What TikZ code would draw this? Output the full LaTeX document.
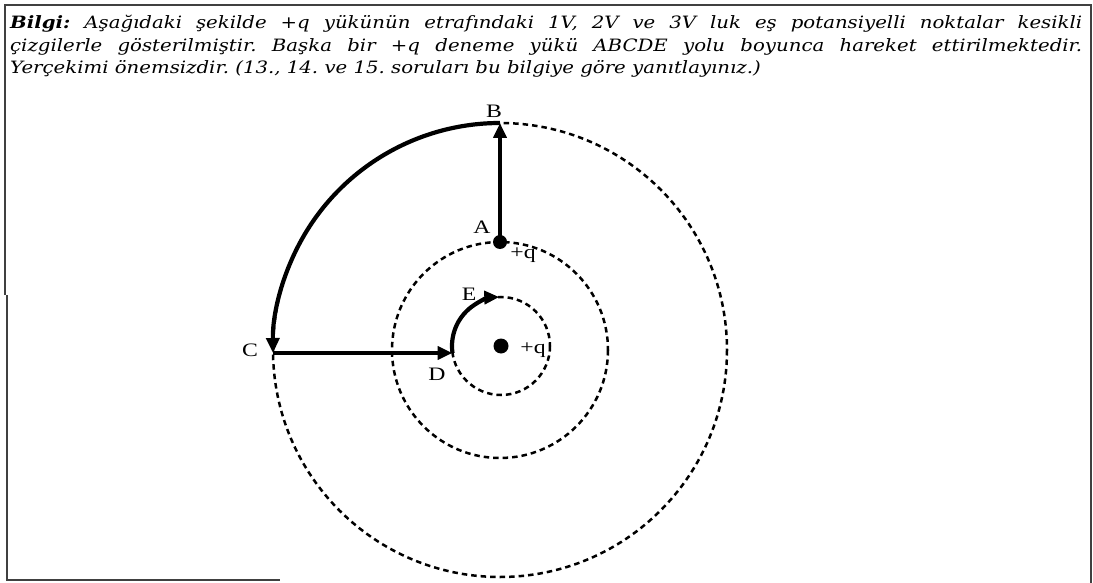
\documentclass[tikz,border=0pt]{standalone}
\usepackage{fontspec}
\setmainfont{DejaVu Serif}
\newfontfamily\infofont{DejaVu Serif}[FakeStretch=1.16]
\newfontfamily\lblfont{Liberation Serif}[FakeStretch=1.25]
\usetikzlibrary{arrows.meta}
\begin{document}
\begin{tikzpicture}[x=1pt,y=-1pt,
  eqline/.style={line width=2.5pt, dash pattern=on 5.5pt off 4pt},
  movepath/.style={line width=4.2pt, -{Triangle[length=15pt,width=13pt]}},
  lbl/.style={font=\lblfont\fontsize{19}{19}\selectfont, inner sep=0pt},
  charge/.style={circle, fill=black, inner sep=0pt},
  frameline/.style={line width=1.5pt, draw=black!75}
]
\useasboundingbox (0,0) rectangle (1093,583);
% frame
\draw[frameline] (5,295) -- (5,5) -- (1091,5) -- (1091,583);
\draw[frameline] (7,295) -- (7,580) -- (280,580);
% info text
\node[anchor=north west, text width=1072pt, align=justify, inner sep=0pt,
      font=\frenchspacing\infofont\fontsize{17}{22.5}\selectfont\itshape] (info) at (10,15)
  {\textbf{Bilgi:} Aşağıdaki şekilde +q yükünün etrafındaki 1V, 2V ve 3V luk eş potansiyelli noktalar kesikli\linebreak
   çizgilerle gösterilmiştir. Başka bir +q deneme yükü ABCDE yolu boyunca hareket ettirilmektedir.\linebreak
   Yerçekimi önemsizdir. (13., 14. ve 15. soruları bu bilgiye göre yanıtlayınız.)};
% equipotential circles
\coordinate (O) at (500,350);
\coordinate (Oi) at (501,346);
\draw[eqline] (O) circle[radius=227];
\draw[eqline] (O) circle[radius=108];
\draw[eqline] (Oi) circle[radius=49];
% charges and points
\node[charge, minimum size=15pt] (q0) at (Oi) {};
\node[charge, minimum size=14pt] (A) at (500,242) {};
\coordinate (B) at (500,123);
\coordinate (C) at (273,353);
\coordinate (D) at (452.5,353);
% path ABCDE
\draw[movepath] (A.center) -- (B);
\draw[movepath] (B) arc[start angle=-90, end angle=-180.76, radius=227];
\draw[movepath] (C) -- (D);
\draw[movepath] (D) arc[start angle=171.8, end angle=268, radius=49];
% labels
\node[lbl] (Blbl) at (494,111) {B};
\node[lbl] (Albl) at (482,227) {A};
\node[lbl] (qA) at (523,255) {+q};
\node[lbl] (Elbl) at (469,294) {E};
\node[lbl] (Dlbl) at (437,374) {D};
\node[lbl] (Clbl) at (250,350) {C};
\node[lbl] (q0lbl) at (533,350) {+q};
\end{tikzpicture}
\end{document}
